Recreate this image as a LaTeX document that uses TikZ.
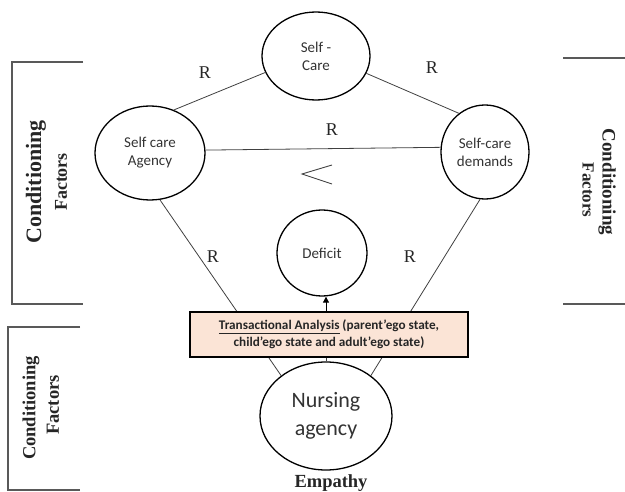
\documentclass[tikz,border=0pt]{standalone}
\usepackage{fontspec}
\setmainfont{Liberation Serif}
\newfontfamily\calib{Carlito}
\usetikzlibrary{shapes.geometric,arrows.meta}
\tikzset{
  bub/.style={ellipse,draw=black,line width=1.3pt,inner sep=0pt,align=center,font=\calib\fontsize{15}{18}\selectfont,text=black!80},
  link/.style={draw=black!75,line width=0.8pt},
  brk/.style={draw=black!65,line width=1.3pt},
  rlab/.style={font=\fontsize{18}{18}\selectfont,text=black!85},
  cond/.style={align=center,font=\bfseries,text=black!85,inner sep=0pt},
}
\begin{document}
\begin{tikzpicture}[x=1pt,y=-1pt]
\useasboundingbox (0,0) rectangle (625,492);
% nodes
\node[bub,minimum width=108pt,minimum height=88pt] (sc) at (316,56) {Self -\\Care};
\node[bub,minimum width=110pt,minimum height=94pt] (sca) at (150,153) {Self care\\Agency};
\node[bub,minimum width=88pt,minimum height=94pt] (scd) at (485,152) {Self-care\\demands};
\node[bub,minimum width=90pt,minimum height=86pt] (def) at (322,253) {Deficit};
\node[bub,minimum width=132pt,minimum height=108pt,font=\calib\fontsize{22}{28}\selectfont] (na) at (326,416) {Nursing\\agency};
% connectors
\draw[link] (sca.61) -- (sc.198);
\draw[link] (sc.-19) -- (scd.124);
\draw[link] (sca.3) -- (scd.174);
\draw[link] (sca.-78) -- (na.138);
\draw[link] (scd.-96) -- (na.42);
% TA box
\node[draw=black,line width=1.3pt,fill={rgb,255:red,251;green,228;blue,214},minimum width=278pt,minimum height=45pt,inner sep=0pt,align=center,font=\calib\fontsize{13.2}{17}\selectfont,text=black!85] (ta) at (329,334.5) {\underline{\textbf{Transactional Analysis}} \textbf{(parent’ego state,}\\\textbf{child’ego state and adult’ego state)}};
\draw[link,-{Triangle[length=6pt,width=6pt]},black] (ta.north -| na.center) -- (na.center |- def.south);
\draw[link] (ta.south -| na.center) -- (na.north);
% R labels
\node[rlab] (r1) at (205,73) {R};
\node[rlab] (r2) at (432,68) {R};
\node[rlab] (r3) at (332,130) {R};
\node[rlab] (r4) at (213,257) {R};
\node[rlab] (r5) at (410,257) {R};
% less-than sign
\coordinate (lt1) at (332,165);
\coordinate (lt2) at (302,174);
\coordinate (lt3) at (332,184);
\draw[black!75,line width=0.9pt] (lt1) -- (lt2) -- (lt3);
% brackets
\draw[brk] (83,62) -- (12,62) -- (12,304) -- (83,304);
\draw[brk] (563,58) -- (625,58);
\draw[brk] (563,304) -- (625,304);
\draw[brk] (80,327) -- (8,327) -- (8,490) -- (80,490);
% conditioning labels
\node[cond,rotate=90,font=\bfseries\fontsize{22}{22}\selectfont] (cl1) at (36,182) {Conditioning};
\node[cond,rotate=90,font=\bfseries\fontsize{18}{18}\selectfont] (cl2) at (61,182) {Factors};
\node[cond,rotate=-90,font=\bfseries\fontsize{19}{19}\selectfont] (cr1) at (607,182) {Conditioning};
\node[cond,rotate=-90,font=\bfseries\fontsize{17}{17}\selectfont] (cr2) at (588,190) {Factors};
\node[cond,rotate=90,font=\bfseries\fontsize{18.5}{18.5}\selectfont] (cb1) at (31,408) {Conditioning};
\node[cond,rotate=90,font=\bfseries\fontsize{18.5}{18.5}\selectfont] (cb2) at (53,405) {Factors};
% empathy
\node[cond,anchor=base,font=\bfseries\fontsize{18.5}{18.5}\selectfont] (emp) at (331,487) {Empathy};
\end{tikzpicture}
\end{document}
